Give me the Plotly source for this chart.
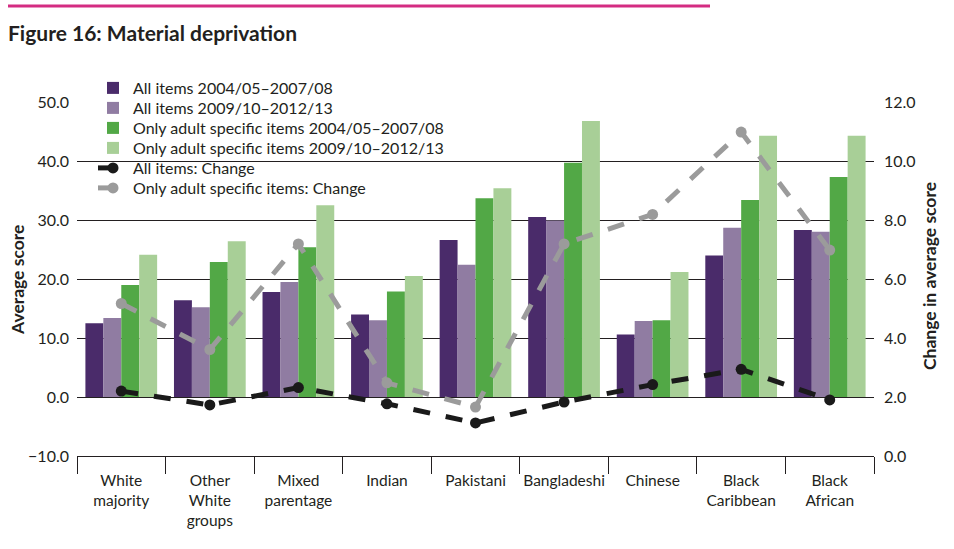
import plotly.graph_objects as go

categories = ["White<br>majority", "Other<br>White<br>groups", "Mixed<br>parentage", "Indian",
              "Pakistani", "Bangladeshi", "Chinese", "Black<br>Caribbean", "Black<br>African"]
all_0408 = [12.5, 16.4, 17.8, 14.0, 26.6, 30.5, 10.6, 24.0, 28.3]
all_0913 = [13.4, 15.2, 19.5, 13.0, 22.4, 29.9, 12.9, 28.7, 28.0]
adult_0408 = [19.0, 22.9, 25.4, 17.9, 33.7, 39.7, 13.0, 33.4, 37.3]
adult_0913 = [24.1, 26.4, 32.5, 20.5, 35.4, 46.8, 21.2, 44.3, 44.3]
all_change = [2.20, 1.73, 2.32, 1.77, 1.12, 1.83, 2.42, 2.94, 1.90]
adult_change = [5.17, 3.61, 7.19, 2.48, 1.66, 7.19, 8.19, 10.98, 6.98]

left_ticks = [-10, 0, 10, 20, 30, 40, 50]
left_labels = ["−10.0", "0.0", "10.0", "20.0", "30.0", "40.0", "50.0"]
right_ticks = [0, 2, 4, 6, 8, 10, 12]
right_labels = ["0.0", "2.0", "4.0", "6.0", "8.0", "10.0", "12.0"]

FONT = "Lato"
TXT = "#231f20"

# plot area in pixels
PL, PR, PT, PB = 77, 874, 102, 456
PW, PH = PR - PL, PB - PT


def px(x):
    return (x - PL) / PW


def py(y):
    return (PB - y) / PH


fig = go.Figure()
bar_specs = [
    ("All items 2004/05–2007/08", all_0408, "#4a2b6a"),
    ("All items 2009/10–2012/13", all_0913, "#907ca2"),
    ("Only adult specific items 2004/05–2007/08", adult_0408, "#52a846"),
    ("Only adult specific items 2009/10–2012/13", adult_0913, "#a8cf97"),
]
legend_ids = ["legend", "legend2", "legend3", "legend4", "legend5", "legend6"]
for i, (name, vals, col) in enumerate(bar_specs):
    fig.add_trace(go.Bar(x=categories, y=vals, name=name, legend=legend_ids[i],
                         marker=dict(color=col, line=dict(width=0))))

fig.add_trace(go.Scatter(x=categories, y=all_change, name="All items: Change", yaxis="y2",
                         legend=legend_ids[4], mode="lines+markers",
                         line=dict(color="#1a1a1a", width=5, dash="17px,16px"),
                         marker=dict(color="#1a1a1a", size=11)))
fig.add_trace(go.Scatter(x=categories, y=adult_change, name="Only adult specific items: Change", yaxis="y2",
                         legend=legend_ids[5], mode="lines+markers",
                         line=dict(color="#9b9b9b", width=5, dash="17px,16px"),
                         marker=dict(color="#9b9b9b", size=11)))

legend_layouts = {}
for i, lid in enumerate(legend_ids):
    yc = 88 + 20 * i
    legend_layouts[lid] = dict(x=px(93), y=py(yc), xanchor="left", yanchor="middle",
                               bgcolor="rgba(0,0,0,0)", borderwidth=0,
                               font=dict(family=FONT, size=16, color=TXT))

fig.update_layout(
    width=954, height=549, autosize=False,
    margin=dict(l=PL, r=954 - PR, t=PT, b=549 - PB, autoexpand=False),
    paper_bgcolor="white", plot_bgcolor="white",
    font=dict(family=FONT, color=TXT, size=15),
    barmode="group", bargap=0.19, bargroupgap=0,
    title=dict(text="<b>Figure 16: Material deprivation</b>", x=8 / 954, xref="container", xanchor="left",
               y=1 - 34 / 549, yref="container", yanchor="middle", pad=dict(l=0, t=0, b=0, r=0),
               font=dict(family=FONT, size=21, color=TXT)),
    showlegend=True,
    xaxis=dict(type="category", range=[-0.5, 8.5], showgrid=False, showline=True, linecolor=TXT,
               linewidth=1, ticks="outside", tickson="boundaries", ticklen=17, tickcolor=TXT,
               tickwidth=1, tickangle=0, automargin=False,
               tickfont=dict(family=FONT, size=15.5, color=TXT), ticklabelstandoff=10),
    yaxis=dict(range=[-10, 50], tickvals=left_ticks, ticktext=left_labels, automargin=False,
               showgrid=True, gridcolor=TXT, gridwidth=1, zeroline=False, showline=False,
               ticks="", tickfont=dict(family=FONT, size=16, color=TXT), ticklabelstandoff=7),
    yaxis2=dict(range=[0, 12], overlaying="y", side="right", tickvals=right_ticks, automargin=False,
                ticktext=right_labels, showgrid=False, zeroline=False,
                showline=False, ticks="", tickfont=dict(family=FONT, size=16, color=TXT),
                ticklabelstandoff=9),
    shapes=[
        dict(type="line", xref="paper", yref="paper", x0=px(8), x1=px(710),
             y0=py(6), y1=py(6), line=dict(color="#d42c82", width=3)),
        # white legend background hiding the gridlines behind the legend
        dict(type="rect", xref="paper", yref="paper", x0=0, x1=px(462), y0=py(198), y1=py(78),
             layer="between", fillcolor="white", line=dict(width=0)),
    ],
    annotations=[
        dict(text="<b>Average score</b>", xref="paper", yref="paper", x=px(17), y=py(280),
             textangle=-90, showarrow=False, xanchor="center", yanchor="middle",
             font=dict(family=FONT, size=17.5, color=TXT)),
        dict(text="<b>Change in average score</b>", xref="paper", yref="paper", x=px(929),
             y=py(276), textangle=-90, showarrow=False, xanchor="center", yanchor="middle",
             font=dict(family=FONT, size=17.5, color=TXT)),
    ],
    **legend_layouts,
)

fig.write_html("out.html", config={"displayModeBar": False},
               post_script="document.body.style.margin='0';")
